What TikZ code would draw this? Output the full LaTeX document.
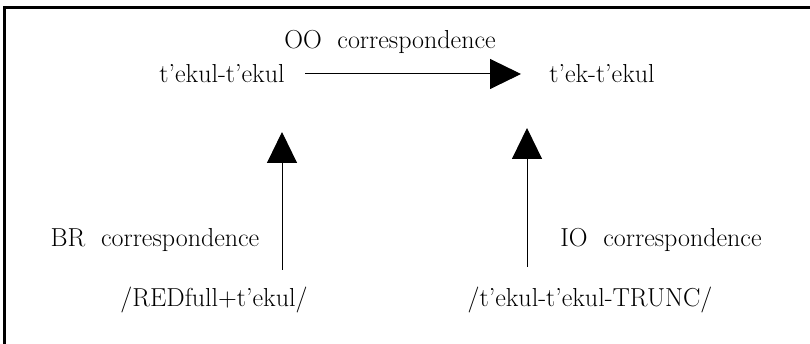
\documentclass[tikz,border=0pt]{standalone}
\usetikzlibrary{arrows.meta}
\begin{document}
\begin{tikzpicture}[x=1pt,y=1pt,
        lbl/.style={inner sep=0pt,font=\fontsize{26}{30}\selectfont},
        corr/.style={line width=1pt,-{Triangle[length=31pt,width=30pt]}}]
        \useasboundingbox (0,0) rectangle (810,344);
        \draw[line width=2.2pt] (4.5,0) -- (4.5,336.5) -- (810,336.5);

        \node[lbl] (oo) at (390,302) {OO\ \ correspondence};
        \node[lbl] (src) at (222,270) {t'ekul-t'ekul};
        \node[lbl] (dst) at (602,270) {t'ek-t'ekul};
        \node[lbl] (red) at (214,44) {/REDfull+t'ekul/};
        \node[lbl] (trunc) at (590,44) {/t'ekul-t'ekul-TRUNC/};
        \node[lbl] (br) at (155,104) {BR\ \ correspondence};
        \node[lbl] (io) at (661,104) {IO\ \ correspondence};

        \coordinate (ofoot) at (305,270);
        \coordinate (otip) at (521,270);
        \coordinate (bfoot) at (282,74);
        \coordinate (btip) at (282,212);
        \coordinate (ifoot) at (527,77);
        \coordinate (itip) at (527,216);

        \draw[corr] (ofoot) -- (otip);
        \draw[corr] (bfoot) -- (btip);
        \draw[corr] (ifoot) -- (itip);
\end{tikzpicture}
\end{document}
